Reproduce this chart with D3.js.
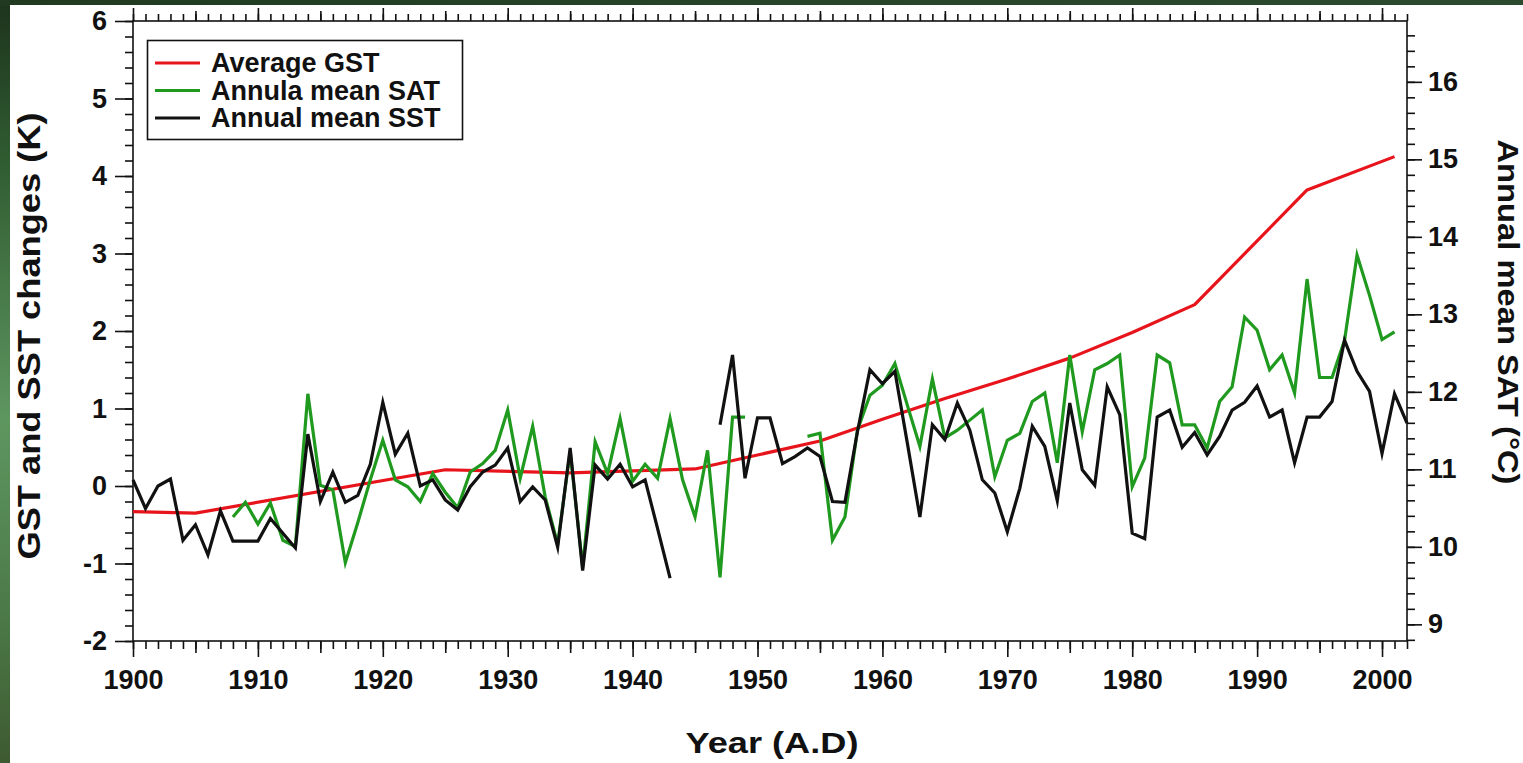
<!DOCTYPE html>
<html><head><meta charset="utf-8">
<script src="https://cdn.jsdelivr.net/npm/d3@7"></script>
<style>html,body{margin:0;padding:0;background:#fff;overflow:hidden}</style>
</head><body><svg id="c" width="1523" height="763"></svg>
<script>
const firstYear = 1900;
const lastYear = 2002;
// Annual mean SST (K), 1900..2002 (null = no data)
const sstValues = [0.08,-0.29,0.00,0.09,-0.70,-0.50,-0.89,-0.32,-0.71,-0.71,
 -0.71,-0.42,-0.61,-0.80,0.67,-0.20,0.18,-0.21,-0.12,0.28,
 1.08,0.41,0.68,0.00,0.08,-0.18,-0.31,-0.01,0.18,0.27,
 0.49,-0.20,-0.01,-0.18,-0.79,0.49,-1.09,0.27,0.09,0.28,
 -0.01,0.08,-0.55,-1.19,null,null,null,0.79,1.69,0.10,
 0.88,0.88,0.29,0.38,0.49,0.38,-0.20,-0.21,0.70,1.50,
 1.32,1.48,0.55,-0.40,0.79,0.60,1.07,0.72,0.08,-0.09,
 -0.59,-0.03,0.77,0.51,-0.19,1.07,0.21,0.01,1.28,0.92,
 -0.61,-0.68,0.89,0.98,0.50,0.69,0.40,0.64,0.98,1.08,
 1.29,0.89,0.98,0.30,0.89,0.89,1.09,1.88,1.48,1.22,
 0.42,1.19,0.81];
// Annual mean SAT (plotted on left-axis K scale), 1900..2002
const satValues = [null,null,null,null,null,null,null,null,-0.40,-0.21,
 -0.49,-0.22,-0.70,-0.78,1.19,0.01,-0.05,-0.99,-0.47,0.08,
 0.59,0.08,-0.01,-0.20,0.16,-0.08,-0.28,0.18,0.29,0.46,
 0.98,0.10,0.77,-0.14,-0.75,0.45,-1.05,0.57,0.16,0.87,
 0.06,0.28,0.10,0.87,0.08,-0.40,0.46,-1.18,0.89,0.89,
 null,null,null,null,0.64,0.68,-0.70,-0.40,0.72,1.17,
 1.30,1.58,1.04,0.51,1.38,0.62,0.72,0.85,0.98,0.12,
 0.59,0.68,1.09,1.20,0.30,1.69,0.70,1.50,1.58,1.69,
 -0.01,0.36,1.69,1.59,0.79,0.79,0.49,1.09,1.28,2.18,
 2.01,1.50,1.69,1.20,2.67,1.40,1.40,1.88,2.98,2.46,
 1.89,1.99,null];
// Average GST
const gstYears  = [1900,1905,1925,1935,1945,1950,1955,1960,1965,1970,1975,1980,1985,1994,2001];
const gstValues = [-0.33,-0.35,0.21,0.17,0.22,0.40,0.58,0.86,1.13,1.38,1.65,1.98,2.34,3.82,4.25];

const xTickLabels = [1900,1910,1920,1930,1940,1950,1960,1970,1980,1990,2000];
const leftTickLabels = [-2,-1,0,1,2,3,4,5,6];
const rightTickLabels = [9,10,11,12,13,14,15,16];
const seriesNames = ["Average GST","Annula mean SAT","Annual mean SST"];
const seriesColors = ["#e8141c","#1f9a1f","#111111"];

const FONT = "'Liberation Sans', Arial, Helvetica, sans-serif";
const svg = d3.select("#c");
const fmt = d => String(d); // plain hyphen minus, as in the reference

// background
const defs = svg.append("defs");
const g1 = defs.append("linearGradient").attr("id","bgL").attr("x1",0).attr("y1",0).attr("x2",0).attr("y2",1);
g1.append("stop").attr("offset","0").attr("stop-color","#1d331d");
g1.append("stop").attr("offset","0.2").attr("stop-color","#2f5a30");
g1.append("stop").attr("offset","0.55").attr("stop-color","#5e9660");
g1.append("stop").attr("offset","0.8").attr("stop-color","#4c7a48");
g1.append("stop").attr("offset","1").attr("stop-color","#3e5a30");
svg.append("rect").attr("width",1523).attr("height",763).attr("fill","url(#bgL)");
const g2 = defs.append("linearGradient").attr("id","bgT").attr("x1",0).attr("y1",0).attr("x2",1).attr("y2",0);
g2.append("stop").attr("offset","0").attr("stop-color","#1f3a20");
g2.append("stop").attr("offset","0.5").attr("stop-color","#27442a");
g2.append("stop").attr("offset","1").attr("stop-color","#2c4a2e");
svg.append("rect").attr("width",1523).attr("height",6).attr("fill","url(#bgT)");
svg.append("rect").attr("x",10).attr("y",5).attr("width",1513).attr("height",758).attr("fill","#ffffff");

// scales
const x = d3.scaleLinear().domain([firstYear,lastYear]).range([133,1407]);
const y = d3.scaleLinear().domain([-2,6]).range([641,21]);
const yR = d3.scaleLinear().domain([8.785,16.785]).range([641,21]);

function styleAxis(g){
  g.select(".domain").remove();
  g.selectAll("line").attr("stroke","#111").attr("stroke-width",1.6);
  g.selectAll("text").attr("font-family",FONT).attr("font-weight","bold").attr("font-size",27).attr("fill","#111");
}
const allYears = d3.range(firstYear, lastYear+1);
const fiveYears = allYears.filter(v => v % 10 === 5);
const minorLeft = d3.range(-20, 61, 2).map(v => v/10);
const minorRight = d3.range(88, 167, 2).map(v => v/10);

// bottom axis
svg.append("g").attr("transform","translate(0,641)").call(d3.axisBottom(x).tickValues(allYears).tickSize(8).tickSizeOuter(0).tickFormat("")).call(styleAxis);
svg.append("g").attr("transform","translate(0,641)").call(d3.axisBottom(x).tickValues(fiveYears).tickSize(12).tickSizeOuter(0).tickFormat("")).call(styleAxis);
svg.append("g").attr("transform","translate(0,641)").call(d3.axisBottom(x).tickValues(xTickLabels).tickSize(16).tickSizeOuter(0).tickPadding(13).tickFormat(fmt)).call(styleAxis);
// top axis
svg.append("g").attr("transform","translate(0,21)").call(d3.axisTop(x).tickValues(allYears).tickSize(7).tickSizeOuter(0).tickFormat("")).call(styleAxis);
svg.append("g").attr("transform","translate(0,21)").call(d3.axisTop(x).tickValues(fiveYears).tickSize(10).tickSizeOuter(0).tickFormat("")).call(styleAxis);
svg.append("g").attr("transform","translate(0,21)").call(d3.axisTop(x).tickValues(xTickLabels).tickSize(13).tickSizeOuter(0).tickFormat("")).call(styleAxis);
// left axis
svg.append("g").attr("transform","translate(133,0)").call(d3.axisLeft(y).tickValues(minorLeft).tickSize(8).tickSizeOuter(0).tickFormat("")).call(styleAxis);
svg.append("g").attr("transform","translate(133,0)").call(d3.axisLeft(y).tickValues(leftTickLabels).tickSize(18).tickSizeOuter(0).tickPadding(8).tickFormat(fmt)).call(styleAxis);
// right axis
svg.append("g").attr("transform","translate(1407,0)").call(d3.axisRight(yR).tickValues(minorRight).tickSize(8).tickSizeOuter(0).tickFormat("")).call(styleAxis);
svg.append("g").attr("transform","translate(1407,0)").call(d3.axisRight(yR).tickValues(rightTickLabels).tickSize(15).tickSizeOuter(0).tickPadding(6).tickFormat(fmt)).call(styleAxis);

// frame
svg.append("rect").attr("x",133).attr("y",21).attr("width",1407-133).attr("height",641-21)
  .attr("fill","none").attr("stroke","#111").attr("stroke-width",1.6);

// lines
const line = d3.line().defined(d => d.v !== null).x(d => x(d.yr)).y(d => y(d.v));
const gstData = gstYears.map((yr,i) => ({yr, v: gstValues[i]}));
const satData = satValues.map((v,i) => ({yr: firstYear+i, v}));
const sstData = sstValues.map((v,i) => ({yr: firstYear+i, v}));
const plot = svg.append("g");
plot.append("path").datum(gstData).attr("d",line).attr("fill","none").attr("stroke",seriesColors[0]).attr("stroke-width",3.2).attr("stroke-linejoin","round");
plot.append("path").datum(satData).attr("d",line).attr("fill","none").attr("stroke",seriesColors[1]).attr("stroke-width",3.2).attr("stroke-linejoin","miter").attr("stroke-miterlimit",6);
plot.append("path").datum(sstData).attr("d",line).attr("fill","none").attr("stroke",seriesColors[2]).attr("stroke-width",3.2).attr("stroke-linejoin","miter").attr("stroke-miterlimit",6);

// legend
const lg = svg.append("g");
lg.append("rect").attr("x",147.5).attr("y",40.5).attr("width",315).attr("height",99).attr("fill","#fff").attr("stroke","#111").attr("stroke-width",1.6);
seriesNames.forEach((name,i) => {
  const cy = 63 + i*27.5;
  lg.append("line").attr("x1",155).attr("x2",200).attr("y1",cy).attr("y2",cy).attr("stroke",seriesColors[i]).attr("stroke-width",3);
  lg.append("text").attr("x",211).attr("y",cy).attr("dominant-baseline","central")
    .attr("font-family",FONT).attr("font-weight","bold").attr("font-size",27).attr("fill","#111").text(name);
});

// titles
svg.append("text").attr("x",772).attr("y",742).attr("text-anchor","middle").attr("dominant-baseline","central")
  .attr("font-family",FONT).attr("font-weight","bold").attr("font-size",30).attr("fill","#111")
  .attr("textLength",173).attr("lengthAdjust","spacingAndGlyphs").text("Year (A.D)");
svg.append("text").attr("transform","translate(29,336) rotate(-90)").attr("text-anchor","middle").attr("dominant-baseline","central")
  .attr("font-family",FONT).attr("font-weight","bold").attr("font-size",31).attr("fill","#111")
  .attr("textLength",447).attr("lengthAdjust","spacingAndGlyphs").text("GST and SST changes (K)");
svg.append("text").attr("transform","translate(1508,312) rotate(90)").attr("text-anchor","middle").attr("dominant-baseline","central")
  .attr("font-family",FONT).attr("font-weight","bold").attr("font-size",30).attr("fill","#111")
  .attr("textLength",345).attr("lengthAdjust","spacingAndGlyphs").text("Annual mean SAT (°C)");
</script></body></html>
